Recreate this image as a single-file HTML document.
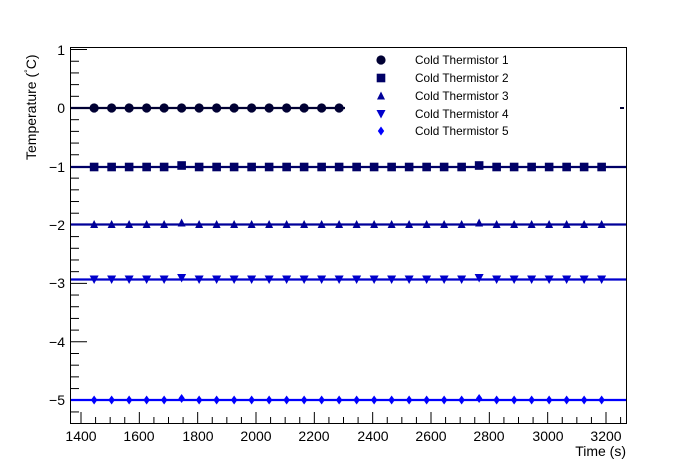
<!DOCTYPE html>
<html><head><meta charset="utf-8"><style>
html,body{margin:0;padding:0;background:#fff;}
svg{display:block;font-family:"Liberation Sans",sans-serif;}
</style></head><body>
<svg id="s" width="696" height="472" viewBox="0 0 696 472">
<rect x="0" y="0" width="696" height="472" fill="#fff"/>
<g id="ticks" stroke="#000" stroke-width="1"></g>
<g id="data"></g>
<rect x="70.5" y="47.5" width="556" height="376" fill="none" stroke="#000" stroke-width="1"/>
<g font-size="14" fill="#000" text-anchor="end">
<text x="65" y="55">1</text>
<text x="65" y="113">0</text>
<text x="65" y="172">−1</text>
<text x="65" y="230">−2</text>
<text x="65" y="288">−3</text>
<text x="65" y="347">−4</text>
<text x="65" y="405">−5</text>
</g>
<g font-size="14" fill="#000" text-anchor="middle">
<text x="81" y="441">1400</text>
<text x="139" y="441">1600</text>
<text x="198" y="441">1800</text>
<text x="256" y="441">2000</text>
<text x="314" y="441">2200</text>
<text x="373" y="441">2400</text>
<text x="431" y="441">2600</text>
<text x="489" y="441">2800</text>
<text x="548" y="441">3000</text>
<text x="606" y="441">3200</text>
</g>
<text x="626" y="456" font-size="14" text-anchor="end">Time (s)</text>
<text transform="translate(36,160) rotate(-90)" font-size="14">Temperature (<tspan dy="-5" font-size="9">°</tspan><tspan dy="5">C)</tspan></text>
<g font-size="11.8" fill="#000">
<text x="415" y="64">Cold Thermistor 1</text>
<text x="415" y="82">Cold Thermistor 2</text>
<text x="415" y="100">Cold Thermistor 3</text>
<text x="415" y="118">Cold Thermistor 4</text>
<text x="415" y="135">Cold Thermistor 5</text>
</g>
<rect x="620" y="107" width="4" height="2" fill="#000033"/>
</svg>
<script>
var NS="http://www.w3.org/2000/svg";
function el(p,t,a){var e=document.createElementNS(NS,t);for(var k in a)e.setAttribute(k,a[k]);p.appendChild(e);return e;}
var tk=document.getElementById('ticks'),dg=document.getElementById('data');
function X(t){return 81+(t-1400)*0.29167;}
function Y(v){return 108-v*58.45;}
for(var i=0;i<=32;i++){var v=1-i*0.2;var y=Y(v);if(y>423)break;var maj=Math.abs(v-Math.round(v))<1e-6;el(tk,'line',{x1:70,x2:70+(maj?17:9),y1:y,y2:y});}
for(var t=1400;t<=3250;t+=50){var x=X(t);var maj=t%200==0;el(tk,'line',{x1:x,x2:x,y1:423,y2:423-(maj?11:6)});}
function marker(g,type,x,y,c){
 if(type==0)el(g,'circle',{cx:x,cy:y,r:4.6,fill:c});
 else if(type==1)el(g,'rect',{x:x-4.3,y:y-4.3,width:8.6,height:8.6,fill:c});
 else if(type==2)el(g,'polygon',{points:(x-4)+','+(y+3.5)+' '+(x+4)+','+(y+3.5)+' '+x+','+(y-4.5),fill:c});
 else if(type==3)el(g,'polygon',{points:(x-4.5)+','+(y-4)+' '+(x+4.5)+','+(y-4)+' '+x+','+(y+4.5),fill:c});
 else el(g,'polygon',{points:(x-3.2)+','+y+' '+x+','+(y-4.5)+' '+(x+3.2)+','+y+' '+x+','+(y+4.5),fill:c});
}
var ser=[[0,'#000033',108,15,345],[1,'#000066',167,30,626],[2,'#000099',224.5,30,626],[3,'#0000cc',279.5,30,626],[4,'#0000ff',400,30,626]];
ser.forEach(function(s){
 el(dg,'line',{x1:71,x2:s[4],y1:s[2],y2:s[2],stroke:s[1],'stroke-width':2.2});
 for(var i=0;i<s[3];i++){var x=X(1445+i*60);var y=s[2];if(s[0]>0&&(i==5||i==22))y-=1.5;marker(dg,s[0],x,y,s[1]);}
});
var ly=[60,78,96,114,131];
ser.forEach(function(s,i){marker(dg,s[0],381,ly[i],s[1]);});
</script>
</body></html>
